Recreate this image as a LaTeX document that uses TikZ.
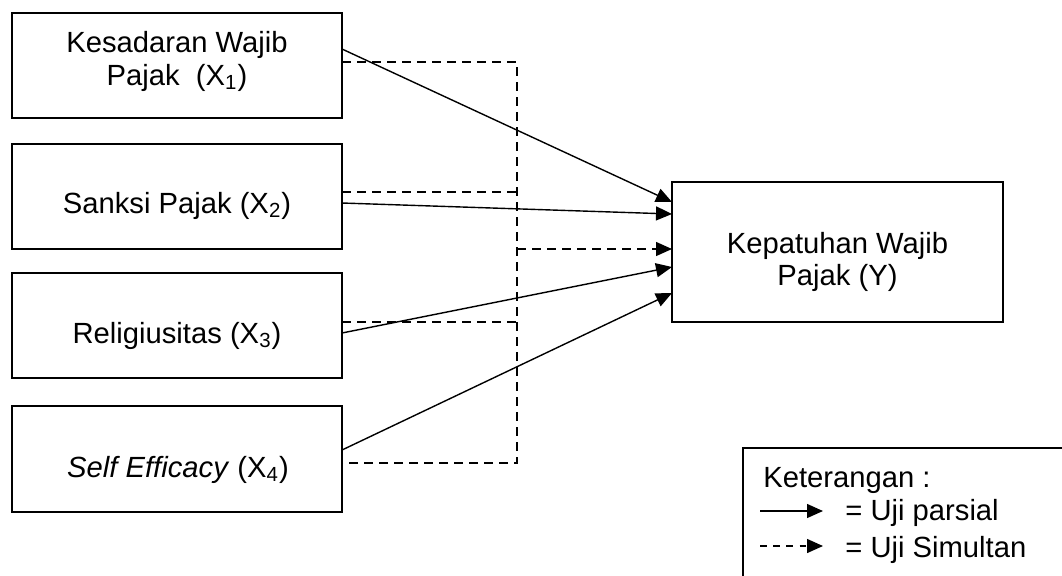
\documentclass[tikz,border=0pt]{standalone}
\usepackage{fontspec}
\setmainfont{Liberation Sans}
\usetikzlibrary{arrows.meta,calc}
\begin{document}
\begin{tikzpicture}[x=0.5pt,y=-0.5pt,
  box/.style={draw, line width=0.75pt, inner sep=0pt, outer sep=0pt,
              minimum width=165pt, minimum height=52.5pt},
  lbl/.style={inner sep=0pt, anchor=base, font=\fontsize{14.6}{16.5}\selectfont},
  conn/.style={line width=0.7pt},
  tip/.style={-{Triangle[length=8pt,width=7pt]}},
  simul/.style={conn, dash pattern=on 4.5pt off 3pt},
]
\useasboundingbox (0,0) rectangle (1062,575);
\clip (0,0) rectangle (1062,575);

% independent variables
\node[box] (X1) at (177,65.5) {};
\node[box] (X2) at (177,196.5) {};
\node[box] (X3) at (177,325.5) {};
\node[box, minimum height=53pt] (X4) at (177,459) {};
\node[lbl] (t1a) at (177,52) {Kesadaran Wajib};
\node[lbl] (t1b) at (177,85) {Pajak~ (X\textsubscript{1})};
\node[lbl] (t2) at (177,213) {Sanksi Pajak (X\textsubscript{2})};
\node[lbl] (t3) at (177,343) {Religiusitas (X\textsubscript{3})};
\node[lbl] (t4) at (178,477) {\textit{Self Efficacy} (X\textsubscript{4})};

% dependent variable
\node[box, minimum width=165.5pt, minimum height=70pt] (Y) at (837.5,252) {};
\node[lbl] (tY1) at (837.5,253) {Kepatuhan Wajib};
\node[lbl] (tY2) at (837.5,285) {Pajak (Y)};

% partial tests
\coordinate (s1) at ($(X1.east)+(0,-16.5)$);
\coordinate (s2) at ($(X2.east)+(0,6.5)$);
\coordinate (s3) at ($(X3.east)+(0,7.5)$);
\coordinate (s4) at ($(X4.east)+(0,-9)$);
\coordinate (e1) at ($(Y.west)+(0,-50)$);
\coordinate (e2) at ($(Y.west)+(0,-38)$);
\coordinate (e3) at ($(Y.west)+(0,15)$);
\coordinate (e4) at ($(Y.west)+(0,41)$);
\draw[conn,tip] (s1) -- (e1);
\draw[conn,tip] (s2) -- (e2);
\draw[conn,tip] (s3) -- (e3);
\draw[conn,tip] (s4) -- (e4);

% simultaneous test
\coordinate (bx) at (517,0);
\coordinate (d1) at ($(X1.east)+(0,-3.5)$);
\coordinate (d2) at ($(X2.east)+(0,-4.5)$);
\coordinate (d3) at ($(X3.east)+(0,-3.5)$);
\coordinate (d4) at ($(X4.east)+(0,4)$);
\coordinate (dY) at ($(Y.west)+(0,-3)$);
\draw[simul] (d1) -| (bx |- d4) -- (d4);
\draw[simul] (d2) -- (bx |- d2);
\draw[simul] (d3) -- (bx |- d3);
\draw[simul,tip] (bx |- dY) -- (dY);

% legend
\node[draw, line width=0.75pt, anchor=north west, inner sep=0pt, outer sep=0pt,
      minimum width=170pt, minimum height=80pt] (L) at (743,448) {};
\node[lbl, anchor=base west] (k) at (763,487) {Keterangan :};
\node[lbl, anchor=base west] (p) at (845,520) {= Uji parsial};
\node[lbl, anchor=base west] (s) at (845,557) {= Uji Simultan};
\coordinate (pa) at (760,511);
\coordinate (pb) at (823,511);
\coordinate (sa) at (760,546);
\coordinate (sb) at (823,546);
\draw[conn,tip] (pa) -- (pb);
\draw[conn,tip,dash pattern=on 3.3pt off 3.3pt] (sa) -- (sb);
\end{tikzpicture}
\end{document}
